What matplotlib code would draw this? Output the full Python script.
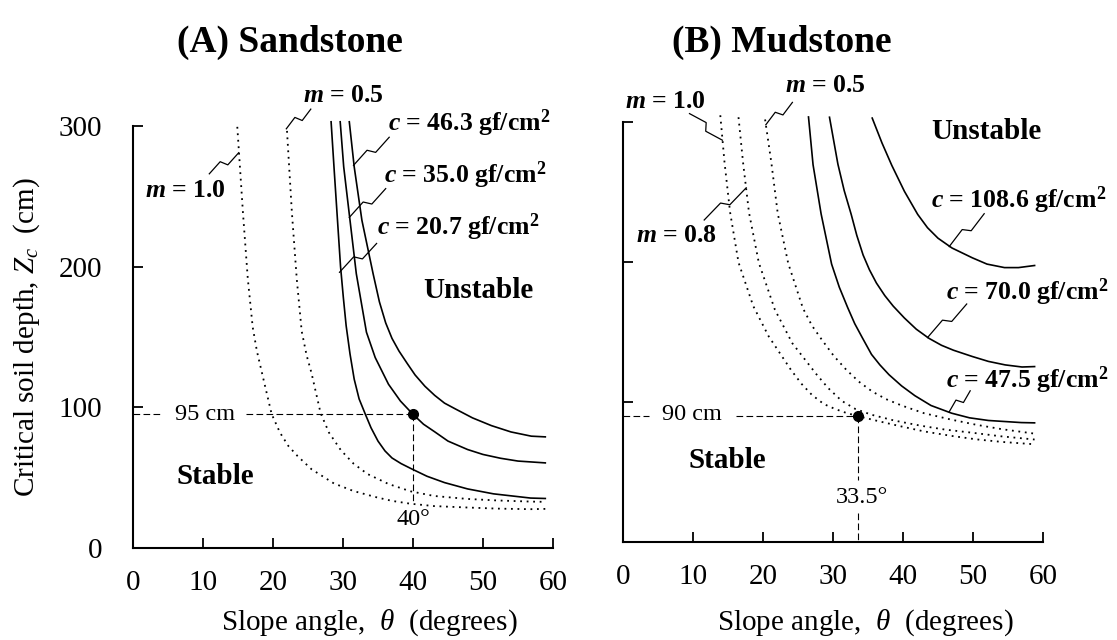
import matplotlib
matplotlib.use("Agg")
import matplotlib.pyplot as plt
import numpy as np

plt.rcParams['font.family'] = ['Liberation Serif', 'DejaVu Serif']
plt.rcParams['mathtext.fontset'] = 'custom'
plt.rcParams['mathtext.rm'] = 'Liberation Serif'
plt.rcParams['mathtext.it'] = 'Liberation Serif:italic'
plt.rcParams['mathtext.bf'] = 'Liberation Serif:bold'
plt.rcParams['mathtext.bfit'] = 'Liberation Serif:bold:italic'

# ---- (A) Sandstone: slope angle (deg) vs critical depth (cm)
a_c207_theta = [28.3, 28.75, 29.2, 29.65, 30.05, 30.45, 31.0, 31.6, 32.3, 33.2, 34.0, 35.0, 36.0,
                37.0, 38.3, 39.7, 42.0, 44.5, 47.8, 51.5, 56.8, 58.9]
a_c207_z = [303, 268, 234, 200, 178, 158, 138, 120, 106, 95, 85.5, 76, 69,
            64, 60, 56.5, 51, 46.5, 42, 38.5, 35.5, 35.2]
a_c350_theta = [29.6, 30.1, 31.0, 31.9, 33.35, 34.6, 36.5, 38.2, 40.0, 41.5, 43.1, 45.0, 47.8,
                50.0, 52.5, 55.0, 58.9]
a_c350_z = [303, 271, 233, 195, 153.4, 135.4, 116.4, 104.5, 95, 88, 82.6, 76, 70,
            66.5, 63.8, 61.8, 60.5]
a_c463_theta = [30.9, 31.6, 32.7, 34.3, 35.2, 36.1, 37.0, 38.0, 39.2, 40.3, 41.7, 43.1, 44.5,
                46.0, 48.5, 51.2, 54.0, 56.9, 58.9]
a_c463_z = [303, 271, 233, 195, 175, 160, 149, 140, 131, 123, 115, 108.5, 103,
            99, 92.5, 87, 82.5, 79.5, 79.0]
a_m10_theta = [14.9, 15.7, 16.4, 17.1, 17.7, 18.4, 19.8, 21.0, 22.2, 23.5, 25.5, 28.7, 31.5,
               34.9, 37.0, 39.6, 43.0, 47.7, 52.0, 56.8, 58.9]
a_m10_z = [299.4, 238.9, 191.4, 157, 140, 125, 95.3, 82, 72.5, 65.4, 56, 45.9, 40.5,
           35.9, 33.5, 31.5, 29.8, 28.8, 28.0, 27.6, 27.8]
a_m05_theta = [22.0, 22.7, 23.4, 24.1, 24.8, 25.5, 26.8, 28.0, 29.7, 31.5, 33.5, 36.5, 39.65,
               43.0, 47.7, 52.0, 56.8, 58.9]
a_m05_z = [296.5, 238.4, 190.9, 154.1, 137, 124.4, 95.9, 82, 69.5, 60, 52.6, 45.5, 40.3,
           37, 34.9, 33.8, 33.0, 32.8]
a_point = (40, 95)

# ---- (B) Mudstone
b_c475_theta = [26.5, 27.15, 28.3, 29.8, 30.9, 32.1, 33.1, 34.2, 35.5, 36.7, 38.0, 39.8, 41.7,
                44.0, 46.95, 49.5, 52.2, 56.9, 58.8]
b_c475_z = [303.6, 269.5, 234.4, 198.5, 182, 167.4, 156, 145.8, 134, 126.5, 119.5, 111.5, 104.5,
            97.5, 92, 88.7, 86.8, 85.3, 85.1]
b_c700_theta = [29.5, 30.7, 31.6, 32.6, 33.4, 34.3, 35.2, 36.2, 37.4, 38.6, 40.2, 41.9, 43.7,
                45.5, 47.2, 49.9, 52.2, 54.6, 57.0, 58.8]
b_c700_z = [303.4, 269.9, 251, 234, 219, 205, 194.5, 185, 176, 168.5, 160, 152, 145.5,
            140.5, 137, 132.5, 129, 126.5, 125, 125.3]
b_c1086_theta = [35.6, 37.0, 38.4, 40.2, 42.1, 43.5, 45.0, 47.0, 49.9, 52.0, 54.5, 56.5, 58.8]
b_c1086_z = [302.8, 285, 269, 250.5, 234, 224.5, 217, 210, 203, 198.5, 196, 196, 197.5]
b_m10_theta = [13.9, 14.5, 15.3, 16.5, 18.6, 20.8, 24.0, 25.5, 27.0, 28.7, 30.3, 31.9, 33.5,
               36.5, 39.8, 43.0, 46.9, 50.5, 54.1, 58.8]
b_m10_z = [304.8, 271.3, 235.5, 199.7, 168.6, 147.0, 122.9, 113, 105, 98.5, 95, 92.2, 90.0,
           86.3, 82.5, 79, 75.8, 73.3, 71.5, 69.8]
b_m08_theta = [16.5, 17.15, 18.0, 19.4, 21.7, 24.2, 27.6, 29.3, 31.25, 33.2, 35.5, 38.8, 42.6,
               46.0, 49.8, 54.0, 58.8]
b_m08_z = [303.4, 271.1, 235.3, 199.5, 165.9, 141.9, 120.0, 110, 100.8, 95, 90.9, 86.7, 83.0,
           80.3, 78.1, 75.5, 73.2]
b_m05_theta = [20.3, 21.2, 22.1, 23.6, 25.7, 27.0, 28.4, 30.1, 31.9, 33.7, 35.6, 37.6, 39.8,
               43.0, 46.9, 50.5, 54.1, 58.8]
b_m05_z = [301.8, 270.7, 234.9, 199.1, 167, 154.5, 144.5, 133, 123, 114.5, 107.5, 102, 97.5,
           92, 87.4, 83.7, 80.6, 77.4]
b_point = (33.5, 90)

x_ticks = [0, 10, 20, 30, 40, 50, 60]
y_ticks = [0, 100, 200, 300]

W, H = 1117, 640
fig = plt.figure(figsize=(W / 100, H / 100), dpi=100)
axA = fig.add_axes([133 / W, 92 / H, 420 / W, 422 / H])
axB = fig.add_axes([623 / W, 98 / H, 420 / W, 420 / H])

DOT = (0, (1, 2.6))
DASH = (0, (6, 3))
lab = dict(fontsize=18.5, fontweight='bold')


def leader(ax, p0, p1):
    # zigzag pointer drawn in pixel space so the kink looks the same everywhere
    pos = ax.get_position()
    sx = pos.width * W / 60
    sy = pos.height * H / 300
    x0, y0, x1, y1 = p0[0] * sx, p0[1] * sy, p1[0] * sx, p1[1] * sy
    dx, dy = x1 - x0, y1 - y0
    L = np.hypot(dx, dy)
    nx, ny = -dy / L, dx / L
    h = 3.5
    xs = np.array([x0, x0 + 0.44 * dx + h * nx, x0 + 0.56 * dx - h * nx, x1])
    ys = np.array([y0, y0 + 0.44 * dy + h * ny, y0 + 0.56 * dy - h * ny, y1])
    ax.plot(xs / sx, ys / sy, color='k', lw=0.9, clip_on=False)


def setup(ax, show_ylabels, xlab_x, xlab_y):
    ax.set_xlim(0, 60)
    ax.set_ylim(0, 300)
    ax.spines['top'].set_visible(False)
    ax.spines['right'].set_visible(False)
    for s in ('left', 'bottom'):
        ax.spines[s].set_linewidth(1.5)
    ax.set_xticks(x_ticks)
    ax.set_yticks(y_ticks if show_ylabels else y_ticks[1:])
    ax.tick_params(axis='both', direction='in', length=7, width=1.3, labelsize=21)
    ax.tick_params(axis='x', pad=16)
    ax.tick_params(axis='y', pad=22, labelleft=show_ylabels)
    ax.set_xlabel(r'Slope angle,  $\theta$  (degrees)', fontsize=21)
    ax.xaxis.set_label_coords(xlab_x, xlab_y)


# ---------------- panel A
ax = axA
setup(ax, True, 0.562, -0.14)
for th, z in [(a_c207_theta, a_c207_z), (a_c350_theta, a_c350_z), (a_c463_theta, a_c463_z)]:
    ax.plot(th, z, color='k', lw=1.2, clip_on=False)
for th, z in [(a_m10_theta, a_m10_z), (a_m05_theta, a_m05_z)]:
    ax.plot(th, z, color='k', lw=1.3, linestyle=DOT, clip_on=False)
ax.plot([0, 4.2], [a_point[1]] * 2, color='k', lw=0.8, linestyle=DASH)
ax.plot([16.2, a_point[0]], [a_point[1]] * 2, color='k', lw=0.8, linestyle=DASH)
ax.plot([a_point[0]] * 2, [a_point[1], 31], color='k', lw=0.8, linestyle=DASH)
ax.plot(*a_point, 'o', color='k', ms=7)
ax.text(10.3, 95, '95 cm', fontsize=17.5, ha='center', va='center')
ax.text(40.1, 20, '40°', fontsize=17.5, ha='center', va='center')
ax.text(11.7, 51, 'Stable', fontsize=21, fontweight='bold', ha='center', va='center')
ax.text(49.4, 183, 'Unstable', fontsize=21, fontweight='bold', ha='center', va='center')
ax.text(7.5, 254, r'$\mathbfit{m}$ = 1.0', ha='center', va='center', **lab)
leader(ax, (10.9, 266), (15.1, 281))
ax.text(30.0, 322, r'$\mathbfit{m}$ = 0.5', ha='center', va='center', **lab)
leader(ax, (25.4, 312), (21.9, 298))
ax.text(36.4, 302, r'$\mathbfit{c}$ = 46.3 gf/cm$^{\mathbf{2}}$', ha='left', va='center', **lab)
leader(ax, (36.6, 292), (31.5, 272))
ax.text(35.9, 265, r'$\mathbfit{c}$ = 35.0 gf/cm$^{\mathbf{2}}$', ha='left', va='center', **lab)
leader(ax, (36.1, 255.5), (30.9, 235))
ax.text(34.8, 228, r'$\mathbfit{c}$ = 20.7 gf/cm$^{\mathbf{2}}$', ha='left', va='center', **lab)
leader(ax, (34.8, 216.5), (29.5, 196))
ax.set_ylabel(r'Critical soil depth, $Z_c$  (cm)', fontsize=21, labelpad=12)

# ---------------- panel B
ax = axB
setup(ax, False, 0.576, -0.155)
for th, z in [(b_c475_theta, b_c475_z), (b_c700_theta, b_c700_z), (b_c1086_theta, b_c1086_z)]:
    ax.plot(th, z, color='k', lw=1.2, clip_on=False)
for th, z in [(b_m10_theta, b_m10_z), (b_m08_theta, b_m08_z), (b_m05_theta, b_m05_z)]:
    ax.plot(th, z, color='k', lw=1.3, linestyle=DOT, clip_on=False)
ax.plot([0, 3.7], [b_point[1]] * 2, color='k', lw=0.8, linestyle=DASH)
ax.plot([16.1, b_point[0]], [b_point[1]] * 2, color='k', lw=0.8, linestyle=DASH)
ax.plot([b_point[0]] * 2, [b_point[1], 44], color='k', lw=0.8, linestyle=DASH)
ax.plot([b_point[0]] * 2, [20.5, 0], color='k', lw=0.8, linestyle=DASH)
ax.plot(*b_point, 'o', color='k', ms=7)
ax.text(9.9, 91, '90 cm', fontsize=17.5, ha='center', va='center')
ax.text(34.1, 32, '33.5°', fontsize=17.5, ha='center', va='center')
ax.text(14.9, 58, 'Stable', fontsize=21, fontweight='bold', ha='center', va='center')
ax.text(51.9, 293, 'Unstable', fontsize=21, fontweight='bold', ha='center', va='center')
ax.text(6.0, 315, r'$\mathbfit{m}$ = 1.0', ha='center', va='center', **lab)
leader(ax, (9.5, 306), (14.2, 287))
ax.text(28.9, 326, r'$\mathbfit{m}$ = 0.5', ha='center', va='center', **lab)
leader(ax, (24.2, 314), (20.4, 298))
ax.text(7.7, 219, r'$\mathbfit{m}$ = 0.8', ha='center', va='center', **lab)
leader(ax, (11.6, 230), (17.6, 253))
ax.text(44.0, 244, r'$\mathbfit{c}$ = 108.6 gf/cm$^{\mathbf{2}}$', ha='left', va='center', **lab)
leader(ax, (51.6, 234.5), (46.6, 211))
ax.text(46.1, 178.5, r'$\mathbfit{c}$ = 70.0 gf/cm$^{\mathbf{2}}$', ha='left', va='center', **lab)
leader(ax, (49.1, 170), (43.5, 146))
ax.text(46.1, 115.5, r'$\mathbfit{c}$ = 47.5 gf/cm$^{\mathbf{2}}$', ha='left', va='center', **lab)
leader(ax, (49.6, 108), (46.6, 93))

fig.text(290 / W, 1 - 42 / H, '(A) Sandstone', fontsize=27, fontweight='bold', ha='center', va='center')
fig.text(782 / W, 1 - 42 / H, '(B) Mudstone', fontsize=27, fontweight='bold', ha='center', va='center')

fig.savefig('out.png', dpi=100)
